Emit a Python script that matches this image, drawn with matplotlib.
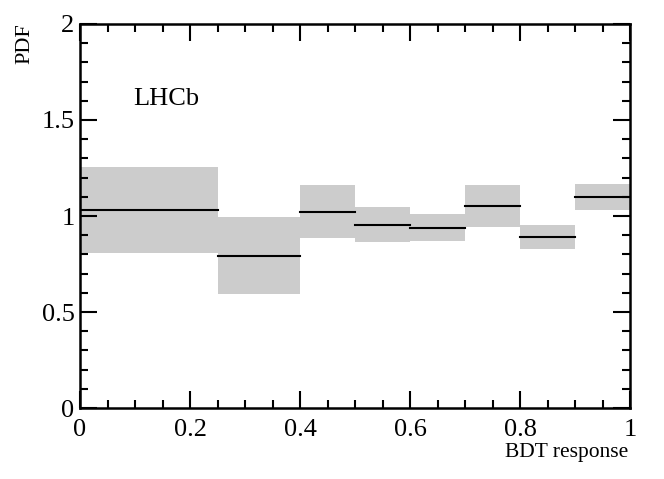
import numpy as np
import matplotlib
matplotlib.use("Agg")
import matplotlib.pyplot as plt
from matplotlib.ticker import MultipleLocator

# bin edges and per-bin PDF value with its uncertainty band
edges = [0.0, 0.25, 0.4, 0.5, 0.6, 0.7, 0.8, 0.9, 1.0]
pdf = [1.03, 0.793, 1.022, 0.955, 0.937, 1.054, 0.889, 1.099]
band_lo = [0.806, 0.594, 0.887, 0.863, 0.870, 0.943, 0.826, 1.030]
band_hi = [1.254, 0.995, 1.160, 1.045, 1.009, 1.161, 0.953, 1.167]

plt.rcParams['font.family'] = ['Liberation Serif', 'DejaVu Serif']
plt.rcParams['mathtext.fontset'] = 'stix'

fig = plt.figure(figsize=(6.64, 4.79), dpi=100)
ax = fig.add_axes([0.1205, 0.148, 0.8285, 0.802])

for i in range(len(pdf)):
    x0, x1 = edges[i], edges[i + 1]
    ax.fill_between([x0, x1], band_lo[i], band_hi[i], color='#cccccc', lw=0, zorder=1)
    ax.plot([x0, x1], [pdf[i], pdf[i]], color='black', lw=1.5, zorder=2)

ax.set_xlim(0, 1)
ax.set_ylim(0, 2)
ax.xaxis.set_major_locator(MultipleLocator(0.2))
ax.xaxis.set_minor_locator(MultipleLocator(0.05))
ax.yaxis.set_major_locator(MultipleLocator(0.5))
ax.yaxis.set_minor_locator(MultipleLocator(0.1))
ax.xaxis.set_major_formatter(plt.FuncFormatter(lambda v, p: '%g' % v))
ax.yaxis.set_major_formatter(plt.FuncFormatter(lambda v, p: '%g' % v))

ax.tick_params(which='both', direction='in', top=True, right=True, width=1.5)
ax.tick_params(which='major', length=12, labelsize=19)
ax.tick_params(axis='x', which='major', pad=8)
ax.tick_params(axis='y', which='major', pad=4)
ax.tick_params(which='minor', length=6)
for s in ax.spines.values():
    s.set_linewidth(1.8)

ax.text(0.096, 1.578, 'LHCb', fontsize=19, ha='left', va='baseline')
fig.text(628 / 664, 1 - 453 / 479, 'BDT response', fontsize=15.5, ha='right', va='center')
fig.text(25 / 664, 1 - 44 / 479, 'PDF', fontsize=16, rotation=90, ha='center', va='center')

fig.savefig('out.png', dpi=100)
